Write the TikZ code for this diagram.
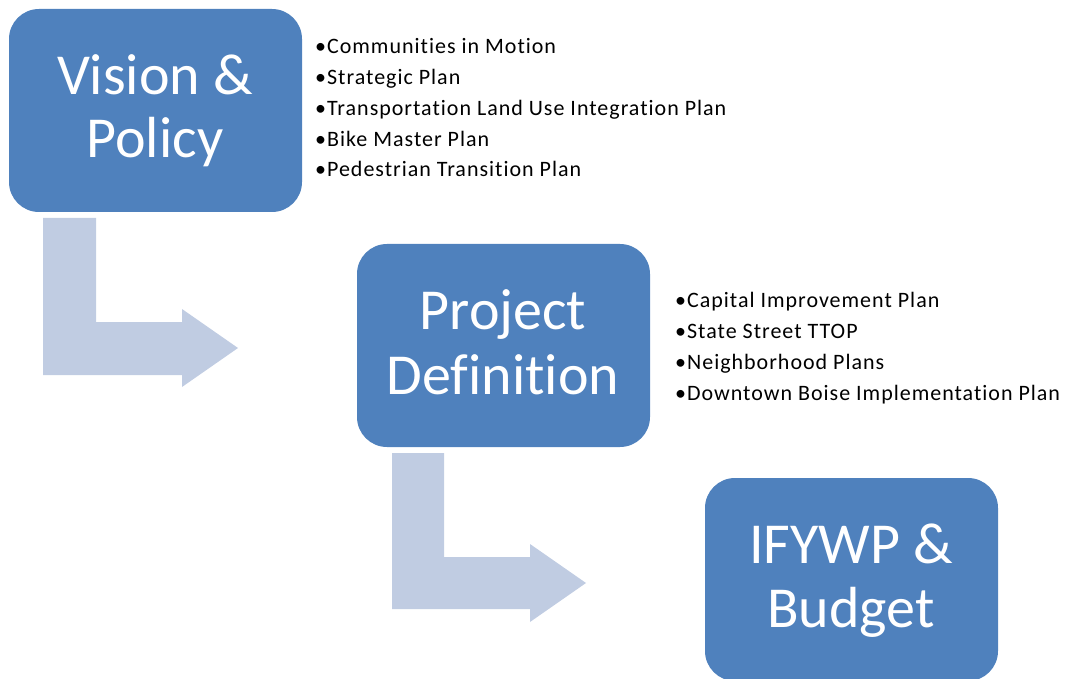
\documentclass[tikz,border=0pt]{standalone}
\usepackage{fontspec}
\setmainfont[Ligatures=NoCommon]{Carlito}
\newfontfamily\listfont[LetterSpace=4.5,Ligatures=NoCommon]{Carlito}
\definecolor{boxblue}{HTML}{4F81BD}
\definecolor{arrowblue}{HTML}{C0CCE2}
\begin{document}
\begin{tikzpicture}[x=1pt,y=-1pt,
  box/.style={fill=boxblue, draw=none, rounded corners=30pt, minimum width=293pt, minimum height=203pt, inner sep=0pt},
  bigtext/.style={text=white, font=\fontsize{58}{63}\selectfont, anchor=base, inner sep=0pt},
  item/.style={text=black, font=\listfont\fontsize{22}{30.7}\selectfont, anchor=base west, inner sep=0pt},
  bentarrow/.style={fill=arrowblue, draw=none}]
\useasboundingbox (0,0) rectangle (1066,679);
\begin{scope}
\clip (0,0) rectangle (1066,679);
% boxes
\node[box] (b1) at (155.5,110.5) {};
\node[box] (b2) at (503.5,345.5) {};
\node[box] (b3) at (851.5,579.5) {};
% bent arrows
\fill[bentarrow] (43,218) -- (96,218) -- (96,322) -- (182,322) -- (182,309) -- (238,348) -- (182,387) -- (182,375) -- (43,375) -- cycle;
\fill[bentarrow] (392,453) -- (444,453) -- (444,557) -- (530,557) -- (530,544) -- (586,583) -- (530,622) -- (530,609) -- (392,609) -- cycle;
\end{scope}
% box texts
\node[bigtext] (t1a) at (155,95) {Vision \&};
\node[bigtext] (t1b) at (155,158) {Policy};
\node[bigtext] (t2a) at (503,329) {Project};
\node[bigtext] (t2b) at (503,394) {Definition};
\node[bigtext] (t3a) at (851,563) {IFYWP \&};
\node[bigtext] (t3b) at (851,627) {Budget};
% lists
\node[item] (l1) at (315,54) {•Communities in Motion};
\node[item] (l2) at (315,84.7) {•Strategic Plan};
\node[item] (l3) at (315,115.4) {•Transportation Land Use Integration Plan};
\node[item] (l4) at (315,146.1) {•Bike Master Plan};
\node[item] (l5) at (315,176.8) {•Pedestrian Transition Plan};
\node[item] (m1) at (675,308) {•Capital Improvement Plan};
\node[item] (m2) at (675,338.7) {•State Street TTOP};
\node[item] (m3) at (675,369.4) {•Neighborhood Plans};
\node[item] (m4) at (675,400.1) {•Downtown Boise Implementation Plan};
\end{tikzpicture}
\end{document}
